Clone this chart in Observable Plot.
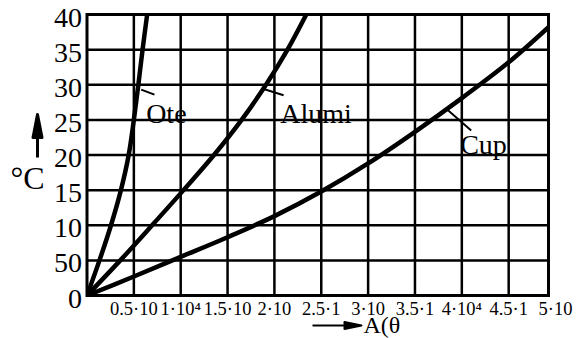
<!DOCTYPE html>
<html><head><meta charset="utf-8">
<script src="https://cdn.jsdelivr.net/npm/d3@7"></script>
<script src="https://cdn.jsdelivr.net/npm/@observablehq/plot@0.6"></script>
<style>body{margin:0;background:#fff}svg{display:block}svg text{font-family:"Liberation Serif","Times New Roman",serif}</style>
</head><body><div id="chart"></div>
<script>
// y ticks (values) and the labels as printed
const yTicks = [0, 50, 100, 150, 200, 250, 300, 350, 400];
const yTickLabels = ["0", "50", "10", "15", "20", "25", "30", "35", "40"];
// x ticks and labels as printed
const xTicks = [5000, 10000, 15000, 20000, 25000, 30000, 35000, 40000, 45000, 50000];
const xTickLabels = ["0.5·10", "1·10⁴", "1.5·10", "2·10", "2.5·1", "3·10", "3.5·1", "4·10⁴", "4.5·1", "5·10"];
const xMax = 49250;
const yMax = 400;

// curves
const oteX = [0, 1330, 2560, 3620, 4450, 5000, 5480, 5930, 6420];
const oteY = [0, 50, 100, 150, 200, 250, 300, 350, 400];
const alumiX = [0, 3550, 6950, 10300, 13550, 16500, 19100, 21400, 23400];
const alumiY = [0, 50, 100, 150, 200, 250, 300, 350, 400];
const cupX = [0, 5000, 10000, 15000, 20000, 25000, 30000, 35000, 40000, 45000, 49250];
const cupY = [0, 27, 55, 83, 113, 148, 188, 233, 281, 332, 382];

// curve names, label anchors and leader lines
const seriesNames = ["Ote", "Alumi", "Cup"];
const labelX = [6310, 20630, 39820];
const labelY = [245, 245, 201];
const leaderX1 = [5780, 18850, 38340];
const leaderY1 = [293, 294, 266];
const leaderX2 = [7200, 20980, 41000];
const leaderY2 = [286, 285, 235];

const yTitle = "°C";
const xTitle = "A(θ";

const serif = "'Liberation Serif', 'Times New Roman', serif";

const rows = [];
[[oteX, oteY], [alumiX, alumiY], [cupX, cupY]].forEach(([xs, ys], k) => {
  xs.forEach((x, i) => rows.push({series: seriesNames[k], x, y: ys[i]}));
});
const labels = seriesNames.map((name, i) => ({name, x: labelX[i], y: labelY[i]}));
const leaders = seriesNames.map((name, i) => ({x1: leaderX1[i], y1: leaderY1[i], x2: leaderX2[i], y2: leaderY2[i]}));

const upArrow = {draw(ctx) {
  ctx.moveTo(0, 0); ctx.lineTo(0, -20);
  ctx.moveTo(0, -43); ctx.lineTo(4.5, -20); ctx.lineTo(-4.5, -20); ctx.closePath();
}};
const rightArrow = {draw(ctx) {
  ctx.moveTo(0, 0); ctx.lineTo(33, 0);
  ctx.moveTo(49, 0); ctx.lineTo(32, -3.5); ctx.lineTo(32, 3.5); ctx.closePath();
}};

const chart = Plot.plot({
  width: 576,
  height: 338,
  marginLeft: 86.5,
  marginRight: 28,
  marginTop: 14,
  marginBottom: 43,
  style: {background: "#fff", fontFamily: serif, color: "black"},
  x: {domain: [0, xMax], axis: null},
  y: {domain: [0, yMax], axis: null},
  marks: [
    Plot.gridX(xTicks.filter(d => d < xMax), {stroke: "black", strokeOpacity: 1, strokeWidth: 2.5}),
    Plot.gridY(yTicks, {stroke: "black", strokeOpacity: 1, strokeWidth: 2.5}),
    Plot.frame({stroke: "black", strokeWidth: 3}),
    Plot.line(rows, {x: "x", y: "y", z: "series", curve: "catmull-rom", stroke: "black", strokeWidth: 4.5, clip: true}),
    Plot.link(leaders, {x1: "x1", y1: "y1", x2: "x2", y2: "y2", stroke: "black", strokeWidth: 2}),
    Plot.text(labels, {x: "x", y: "y", text: "name", textAnchor: "start", lineAnchor: "bottom", fontSize: 28, fontFamily: serif, fill: "black"}),
    Plot.text(yTicks, {y: d => d, frameAnchor: "left", text: (d, i) => yTickLabels[i], textAnchor: "end", lineAnchor: "bottom", dx: -5, dy: 12, fontSize: 28, fontFamily: serif, fill: "black"}),
    Plot.text(xTicks, {x: d => d, frameAnchor: "bottom", text: (d, i) => xTickLabels[i], textAnchor: "middle", lineAnchor: "bottom", dy: 19, fontSize: 18.5, fontFamily: serif, fill: "black"}),
    Plot.text([yTitle], {frameAnchor: "left", text: d => d, textAnchor: "start", lineAnchor: "bottom", dx: -76.5, dy: 33.5, fontSize: 32, fontFamily: serif, fill: "black"}),
    Plot.text([xTitle], {frameAnchor: "bottom", text: d => d, textAnchor: "start", lineAnchor: "bottom", dx: 45.75, dy: 37, fontSize: 24, fontFamily: serif, fill: "black"}),
    Plot.dot([0], {frameAnchor: "left", dx: -49.5, dy: 2.5, symbol: upArrow, fill: "black", stroke: "black", strokeWidth: 3, strokeLinejoin: "round"}),
    Plot.dot([0], {frameAnchor: "bottom", dx: -5.25, dy: 30, symbol: rightArrow, fill: "black", stroke: "black", strokeWidth: 2, strokeLinejoin: "round"})
  ]
});
document.getElementById("chart").appendChild(chart);
</script>
</body></html>
